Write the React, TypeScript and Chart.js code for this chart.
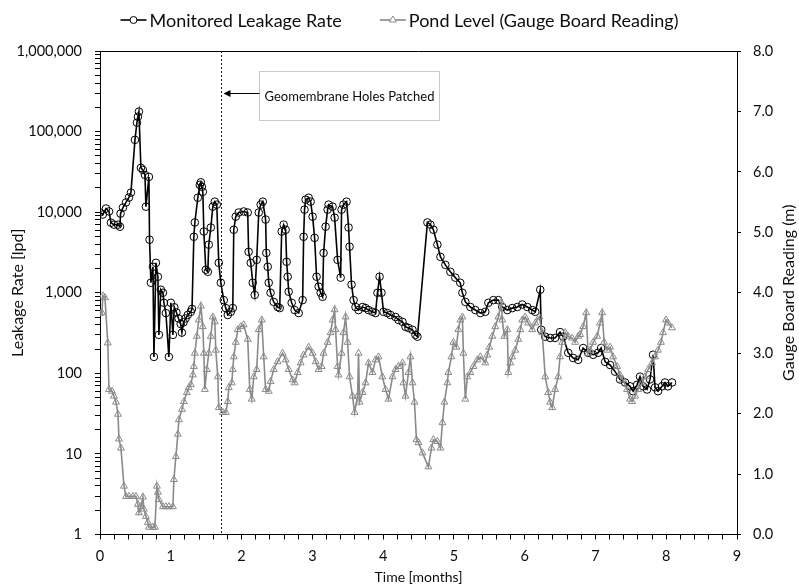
import React, { useEffect, useRef } from 'react';
import { Chart, registerables } from 'chart.js';

Chart.register(...registerables);

// ---------- data ----------
const seriesLabels = ['Monitored Leakage Rate', 'Pond Level (Gauge Board Reading)'];

const leakMonths = [
  0.0, 0.04, 0.085, 0.127, 0.155, 0.197, 0.254, 0.282, 0.29, 0.324, 0.367, 0.409, 0.437, 0.494, 0.522, 0.536, 0.55,
  0.578, 0.606, 0.635, 0.649, 0.691, 0.7, 0.719, 0.748, 0.762, 0.79, 0.818, 0.832, 0.86, 0.889, 0.903, 0.931, 0.973,
  1.001, 1.03, 1.05, 1.08, 1.11, 1.14, 1.157, 1.18, 1.21, 1.24, 1.283, 1.3, 1.326, 1.34, 1.382, 1.41, 1.425, 1.439,
  1.453, 1.467, 1.495, 1.523, 1.537, 1.566, 1.594, 1.622, 1.65, 1.678, 1.707, 1.749, 1.777, 1.805, 1.848, 1.876, 1.89,
  1.918, 1.96, 2.03, 2.087, 2.1, 2.13, 2.158, 2.186, 2.214, 2.243, 2.27, 2.3, 2.34, 2.35, 2.37, 2.384, 2.41, 2.454,
  2.51, 2.539, 2.567, 2.595, 2.623, 2.637, 2.652, 2.666, 2.708, 2.75, 2.807, 2.863, 2.877, 2.89, 2.905, 2.948, 2.976,
  3.004, 3.032, 3.06, 3.089, 3.117, 3.145, 3.159, 3.188, 3.216, 3.23, 3.286, 3.315, 3.357, 3.4, 3.413, 3.44, 3.484,
  3.512, 3.526, 3.554, 3.583, 3.61, 3.653, 3.71, 3.752, 3.794, 3.85, 3.893, 3.92, 3.95, 3.977, 4.006, 4.06, 4.104,
  4.175, 4.217, 4.274, 4.316, 4.358, 4.415, 4.457, 4.485, 4.626, 4.669, 4.711, 4.767, 4.81, 4.88, 4.95, 5.02, 5.09,
  5.12, 5.162, 5.233, 5.303, 5.374, 5.444, 5.487, 5.557, 5.628, 5.684, 5.755, 5.825, 5.896, 5.966, 6.037, 6.107,
  6.15, 6.22, 6.234, 6.29, 6.36, 6.43, 6.5, 6.544, 6.615, 6.685, 6.756, 6.826, 6.897, 6.968, 7.038, 7.08, 7.137,
  7.207, 7.278, 7.348, 7.419, 7.489, 7.532, 7.588, 7.63, 7.673, 7.729, 7.771, 7.814, 7.842, 7.884, 7.941, 7.983,
  8.025, 8.082,
];
const leakRates = [
  9900, 9350, 11100, 10200, 7400, 7000, 7000, 6600, 9600, 11400, 13200, 15200, 17500, 79000, 129000, 153000, 177000,
  35500, 33400, 29000, 11700, 27400, 4550, 1330, 2100, 160, 2350, 1580, 300, 1090, 1000, 750, 560, 160,
  750, 300, 660, 570, 480, 410, 320, 430, 480, 530, 580, 630, 4950, 7450, 15100, 21800, 23500, 20600,
  17900, 5750, 1930, 1820, 3950, 6450, 11700, 13500, 12400, 2350, 1330, 810, 645, 530, 580, 645, 6050,
  8800, 9900, 10200, 9900, 3220, 2350, 1330, 940, 2560, 9900, 12400, 13500, 8100, 3120, 2100, 1330, 1000, 770,
  665, 645, 5750, 7000, 6050, 2420, 1580, 1030, 750, 610, 560, 810, 4950, 10750, 14300, 15100, 13500,
  8800, 4800, 1580, 1190, 1000, 890, 3120, 6600, 10750, 12400, 11700, 8550, 2560, 1540, 10750, 12400, 13500,
  6450, 3730, 1260, 810, 665, 610, 665, 645, 610, 580, 560, 1000, 1580, 1000, 580, 560, 530,
  500, 460, 435, 378, 366, 347, 300, 285, 7450, 7000, 6050, 3950, 2790, 2220, 1820, 1540, 1330,
  1000, 770, 665, 610, 560, 580, 750, 810, 810, 665, 610, 645, 665, 715, 665, 610,
  580, 1090, 347, 285, 275, 275, 325, 285, 180, 155, 147, 206, 180, 170, 180, 206, 139,
  127, 105, 84, 77, 69, 60, 72, 91, 69, 63, 84, 170, 67, 60, 69, 77,
  69, 77,
];

const pondMonths = [
  0.0, 0.028, 0.04, 0.07, 0.11, 0.127, 0.17, 0.197, 0.226, 0.254, 0.268, 0.296, 0.339, 0.367, 0.409, 0.465, 0.508,
  0.536, 0.55, 0.578, 0.606, 0.62, 0.649, 0.677, 0.691, 0.748, 0.776, 0.804, 0.818, 0.832, 0.889, 0.931, 0.973, 1.03,
  1.044, 1.072, 1.1, 1.114, 1.157, 1.185, 1.227, 1.255, 1.283, 1.312, 1.326, 1.34, 1.368, 1.396, 1.425, 1.453, 1.467,
  1.481, 1.509, 1.537, 1.566, 1.594, 1.622, 1.636, 1.664, 1.678, 1.735, 1.777, 1.805, 1.82, 1.862, 1.876, 1.89, 1.918,
  1.946, 1.989, 2.03, 2.087, 2.116, 2.144, 2.172, 2.214, 2.243, 2.285, 2.313, 2.34, 2.384, 2.41, 2.454, 2.51, 2.58,
  2.623, 2.666, 2.722, 2.75, 2.793, 2.835, 2.877, 2.948, 3.004, 3.047, 3.089, 3.131, 3.159, 3.216, 3.258, 3.286,
  3.315, 3.329, 3.357, 3.371, 3.413, 3.44, 3.47, 3.498, 3.526, 3.568, 3.597, 3.639, 3.653, 3.667, 3.71, 3.752, 3.794,
  3.85, 3.893, 3.935, 3.99, 4.034, 4.076, 4.133, 4.175, 4.217, 4.274, 4.288, 4.316, 4.358, 4.386, 4.415, 4.443, 4.471,
  4.5, 4.556, 4.64, 4.683, 4.711, 4.767, 4.81, 4.838, 4.866, 4.908, 4.922, 4.965, 4.993, 5.035, 5.063, 5.092, 5.12,
  5.134, 5.162, 5.19, 5.233, 5.275, 5.331, 5.374, 5.444, 5.472, 5.5, 5.543, 5.585, 5.628, 5.67, 5.684, 5.712, 5.755,
  5.769, 5.797, 5.825, 5.867, 5.91, 5.938, 5.966, 6.008, 6.05, 6.107, 6.15, 6.206, 6.248, 6.29, 6.333, 6.36, 6.389,
  6.43, 6.474, 6.5, 6.53, 6.573, 6.615, 6.671, 6.714, 6.756, 6.784, 6.826, 6.869, 6.897, 6.925, 6.968, 7.024, 7.066,
  7.095, 7.123, 7.165, 7.207, 7.25, 7.306, 7.348, 7.39, 7.447, 7.489, 7.518, 7.56, 7.602, 7.659, 7.7, 7.743, 7.8,
  7.842, 7.884, 7.926, 7.955, 7.997, 8.025, 8.082,
];
const pondLevels = [
  3.66, 3.67, 3.95, 3.92, 3.17, 2.4, 2.37, 2.29, 2.19, 1.99, 1.58, 1.43, 0.8, 0.63, 0.63, 0.63, 0.63,
  0.5, 0.36, 0.46, 0.62, 0.42, 0.3, 0.2, 0.12, 0.12, 0.12, 0.8, 0.7, 0.58, 0.46, 0.46, 0.46, 0.46,
  0.91, 1.29, 1.66, 1.9, 2.07, 2.2, 2.35, 2.43, 2.48, 2.64, 2.78, 3.0, 3.28, 3.55, 3.78, 3.44, 3.0,
  2.4, 2.73, 3.0, 3.28, 3.6, 3.52, 3.05, 2.61, 2.1, 2.02, 2.02, 2.2, 2.43, 2.51, 2.73, 2.94, 3.18,
  3.39, 3.44, 3.47, 3.23, 2.4, 2.24, 2.61, 2.73, 3.39, 3.55, 2.94, 2.4, 2.37, 2.53, 2.73, 2.86, 3.0,
  2.89, 2.73, 2.56, 2.51, 2.68, 2.84, 2.97, 3.1, 3.0, 2.86, 2.73, 2.78, 3.0, 3.18, 3.34, 3.55,
  3.72, 3.39, 2.78, 2.64, 3.0, 3.34, 3.6, 3.18, 2.61, 2.29, 2.02, 2.29, 3.0, 2.19, 2.35, 2.51, 2.84,
  2.68, 2.89, 2.94, 2.61, 2.4, 2.24, 2.61, 2.73, 2.78, 2.84, 2.51, 2.29, 2.68, 2.94, 2.51, 2.19, 1.57,
  1.52, 1.35, 1.12, 1.43, 1.57, 1.54, 1.43, 1.85, 2.19, 2.51, 2.68, 2.94, 3.18, 3.1, 3.39, 3.55, 3.6,
  3.0, 2.24, 2.61, 2.68, 2.78, 2.89, 2.94, 2.84, 2.97, 3.1, 3.28, 3.44, 3.6, 3.84, 3.55, 3.28, 3.39,
  2.68, 2.84, 2.94, 3.05, 3.23, 3.39, 3.55, 3.6, 3.5, 3.39, 3.5, 3.6, 3.34, 2.61, 2.35, 2.19, 2.1,
  2.4, 2.61, 2.94, 3.18, 3.34, 3.28, 3.25, 3.18, 3.28, 3.31, 3.44, 3.67, 3.0, 3.05, 3.18, 3.28, 3.5,
  3.67, 3.18, 3.05, 3.1, 2.94, 2.78, 2.64, 2.56, 2.4, 2.24, 2.2, 2.29, 2.4, 2.51, 2.61, 2.73, 2.84,
  2.94, 3.05, 3.18, 3.34, 3.55, 3.5, 3.42,
];

// axes / ticks / annotation
const leftMajorTicks = [1, 10, 100, 1000, 10000, 100000, 1000000];
const rightTicks = [0, 1, 2, 3, 4, 5, 6, 7, 8];
const xMajorTicks = [0, 1, 2, 3, 4, 5, 6, 7, 8, 9];
const xMinorStep = 0.2;
const axisTitles = ['Time [months]', 'Leakage Rate [lpd]', 'Gauge Board Reading (m)'];
const patchMonth = 1.71;
const patchLabel = 'Geomembrane Holes Patched';

// ---------- style ----------
const FONT = 'Lato, "Open Sans", sans-serif';
const TEXT = '#0d0d0d';
const LEAK_COLOR = '#000000';
const POND_COLOR = '#8a8a8a';
const V_TITLE_SIZE = 16;

function drawMarker(ctx: CanvasRenderingContext2D, style: string, x: number, y: number, r: number) {
  ctx.beginPath();
  if (style === 'circle') {
    ctx.arc(x, y, r, 0, Math.PI * 2);
  } else {
    const h = r * 1.5;
    const side = r * Math.sqrt(3);
    ctx.moveTo(x, y - r);
    ctx.lineTo(x - side / 2, y - r + h);
    ctx.lineTo(x + side / 2, y - r + h);
    ctx.closePath();
  }
  ctx.fillStyle = '#ffffff';
  ctx.fill();
  ctx.stroke();
}

const overlayPlugin = {
  id: 'overlay',
  beforeDatasetsDraw(chart: any) {
    const { ctx, chartArea: ca, scales } = chart;
    const x = Math.round(scales.x.getPixelForValue(patchMonth)) + 0.5;
    ctx.save();
    ctx.strokeStyle = '#1a1a1a';
    ctx.lineWidth = 1;
    ctx.setLineDash([2, 2]);
    ctx.beginPath();
    ctx.moveTo(x, ca.top);
    ctx.lineTo(x, ca.bottom);
    ctx.stroke();
    ctx.restore();
  },
  afterDraw(chart: any) {
    const { ctx, chartArea: ca, scales } = chart;
    ctx.save();
    // top border of plot area
    ctx.strokeStyle = '#000';
    ctx.lineWidth = 1;
    ctx.beginPath();
    ctx.moveTo(ca.left, Math.round(ca.top) + 0.5);
    ctx.lineTo(ca.right, Math.round(ca.top) + 0.5);
    ctx.stroke();

    // annotation box + arrow
    const lineX = Math.round(scales.x.getPixelForValue(patchMonth)) + 0.5;
    const bx = Math.round(lineX + 37) + 0.5;
    const by = Math.round(ca.top + 20) + 0.5;
    const bw = 180;
    const bh = 49;
    ctx.fillStyle = '#ffffff';
    ctx.fillRect(bx, by, bw, bh);
    ctx.strokeStyle = '#c8c8c8';
    ctx.strokeRect(bx, by, bw, bh);
    ctx.fillStyle = TEXT;
    ctx.font = `13px ${FONT}`;
    ctx.textAlign = 'center';
    ctx.textBaseline = 'middle';
    ctx.fillText(patchLabel, bx + bw / 2, by + bh / 2 + 1);
    const ay = by + 22;
    ctx.strokeStyle = '#000';
    ctx.beginPath();
    ctx.moveTo(bx, ay);
    ctx.lineTo(lineX + 8, ay);
    ctx.stroke();
    ctx.fillStyle = '#000';
    ctx.beginPath();
    ctx.moveTo(lineX + 2, ay);
    ctx.lineTo(lineX + 9, ay - 3.5);
    ctx.lineTo(lineX + 9, ay + 3.5);
    ctx.closePath();
    ctx.fill();

    // right axis title (reads bottom to top)
    ctx.save();
    ctx.translate(789, (ca.top + ca.bottom) / 2);
    ctx.rotate(-Math.PI / 2);
    ctx.font = `${V_TITLE_SIZE}px ${FONT}`;
    ctx.fillStyle = TEXT;
    ctx.textAlign = 'center';
    ctx.textBaseline = 'middle';
    ctx.fillText(axisTitles[2], 0, 0);
    ctx.restore();

    // legend
    const items = chart.data.datasets
      .map((d: any) => ({ text: d.label, color: d.borderColor, style: d.pointStyle }))
      .sort((a: any, b: any) => seriesLabels.indexOf(a.text) - seriesLabels.indexOf(b.text));
    ctx.font = `18px ${FONT}`;
    const symW = 26;
    const symGap = 3;
    const itemGap = 38;
    const widths = items.map((it: any) => ctx.measureText(it.text).width);
    const total = widths.reduce((s: number, w: number) => s + symW + symGap + w, 0) + itemGap * (items.length - 1);
    let cx = chart.width / 2 - total / 2;
    const ly = 20;
    items.forEach((it: any, i: number) => {
      ctx.strokeStyle = it.color;
      ctx.lineWidth = 1.6;
      ctx.beginPath();
      ctx.moveTo(cx, ly);
      ctx.lineTo(cx + symW, ly);
      ctx.stroke();
      ctx.lineWidth = 1;
      drawMarker(ctx, it.style, cx + symW / 2, ly, it.style === 'circle' ? 3.5 : 4);
      ctx.fillStyle = TEXT;
      ctx.textAlign = 'left';
      ctx.textBaseline = 'middle';
      ctx.fillText(it.text, cx + symW + symGap, ly + 1);
      cx += symW + symGap + widths[i] + itemGap;
    });
    ctx.restore();
  },
};

function buildLogTicks(): number[] {
  const out: number[] = [];
  for (let i = 0; i < leftMajorTicks.length - 1; i++) {
    for (let k = 1; k <= 9; k++) out.push(leftMajorTicks[i] * k);
  }
  out.push(leftMajorTicks[leftMajorTicks.length - 1]);
  return out;
}

function buildXTicks(): number[] {
  const out: number[] = [];
  const n = Math.round((xMajorTicks[xMajorTicks.length - 1] - xMajorTicks[0]) / xMinorStep);
  for (let i = 0; i <= n; i++) out.push(Math.round((xMajorTicks[0] + i * xMinorStep) * 1000) / 1000);
  return out;
}

export default function App() {
  const ref = useRef<HTMLCanvasElement>(null);

  useEffect(() => {
    const canvas = ref.current;
    if (!canvas) return;
    const tickFont = { family: FONT, size: 14.5 };
    const titleFont = { family: FONT, size: 14 };

    const chart = new Chart(canvas, {
      type: 'line',
      data: {
        datasets: [
          {
            label: seriesLabels[0],
            data: leakMonths.map((m, i) => ({ x: m, y: leakRates[i] })),
            xAxisID: 'x',
            yAxisID: 'y',
            borderColor: LEAK_COLOR,
            borderWidth: 1.6,
            pointStyle: 'circle',
            pointRadius: 3.8,
            pointBorderWidth: 1,
            pointBorderColor: LEAK_COLOR,
            pointBackgroundColor: 'rgba(0,0,0,0)',
            tension: 0,
            order: 1,
          },
          {
            label: seriesLabels[1],
            data: pondMonths.map((m, i) => ({ x: m, y: pondLevels[i] })),
            xAxisID: 'x',
            yAxisID: 'y2',
            borderColor: POND_COLOR,
            borderWidth: 1.6,
            pointStyle: 'triangle',
            pointRadius: 4,
            pointBorderWidth: 1,
            pointBorderColor: POND_COLOR,
            pointBackgroundColor: 'rgba(0,0,0,0)',
            tension: 0,
            order: 0,
          },
        ],
      },
      options: {
        responsive: false,
        maintainAspectRatio: false,
        animation: false,
        devicePixelRatio: 1,
        layout: { padding: { top: 51, left: 6, right: 0, bottom: 0 } },
        plugins: {
          legend: { display: false },
          tooltip: { enabled: false },
        },
        scales: {
          x: {
            type: 'linear',
            position: 'bottom',
            min: xMajorTicks[0],
            max: xMajorTicks[xMajorTicks.length - 1],
            afterBuildTicks: (scale: any) => {
              scale.ticks = buildXTicks().map((v) => ({ value: v }));
            },
            afterFit: (scale: any) => {
              scale.height = 53.5;
            },
            grid: { display: true, drawOnChartArea: false, drawTicks: true, tickLength: 5, color: '#000', lineWidth: 1 },
            border: { display: true, color: '#000', width: 1 },
            ticks: {
              autoSkip: false,
              maxRotation: 0,
              minRotation: 0,
              padding: 8,
              color: TEXT,
              font: tickFont,
              callback: (v: any) => {
                const r = Math.round(v);
                return Math.abs(v - r) < 1e-6 && xMajorTicks.includes(r) ? String(r) : '';
              },
            },
            title: { display: true, text: axisTitles[0], color: TEXT, font: titleFont, padding: { top: 0, bottom: 2 } },
          },
          y: {
            type: 'logarithmic',
            position: 'left',
            min: leftMajorTicks[0],
            max: leftMajorTicks[leftMajorTicks.length - 1],
            afterBuildTicks: (scale: any) => {
              scale.ticks = buildLogTicks().map((v) => ({ value: v }));
            },
            afterFit: (scale: any) => {
              scale.width = 94;
            },
            grid: { display: true, drawOnChartArea: false, drawTicks: true, tickLength: 5, color: '#000', lineWidth: 1 },
            border: { display: true, color: '#000', width: 1 },
            ticks: {
              autoSkip: false,
              padding: 13,
              color: TEXT,
              font: tickFont,
              callback: (v: any) => (leftMajorTicks.includes(v) ? Number(v).toLocaleString('en-US') : ''),
            },
            title: {
              display: true,
              text: axisTitles[1],
              color: TEXT,
              font: { family: FONT, size: V_TITLE_SIZE },
              padding: { top: 2, bottom: 0 },
            },
          },
          y2: {
            type: 'linear',
            position: 'right',
            min: rightTicks[0],
            max: rightTicks[rightTicks.length - 1],
            afterBuildTicks: (scale: any) => {
              scale.ticks = rightTicks.map((v) => ({ value: v }));
            },
            afterFit: (scale: any) => {
              scale.width = 62;
            },
            grid: { display: true, drawOnChartArea: false, drawTicks: true, tickLength: 4, color: '#000', lineWidth: 1 },
            border: { display: true, color: '#000', width: 1 },
            ticks: {
              autoSkip: false,
              padding: 12,
              color: TEXT,
              font: tickFont,
              callback: (v: any) => Number(v).toFixed(1),
            },
            title: { display: false },
          },
        },
      },
      plugins: [overlayPlugin],
    } as any);

    return () => chart.destroy();
  }, []);

  return (
    <div style={{ position: 'fixed', left: 0, top: 0, width: 799, height: 588, background: '#ffffff' }}>
      <canvas ref={ref} width={799} height={588} style={{ display: 'block', width: 799, height: 588 }} />
    </div>
  );
}
